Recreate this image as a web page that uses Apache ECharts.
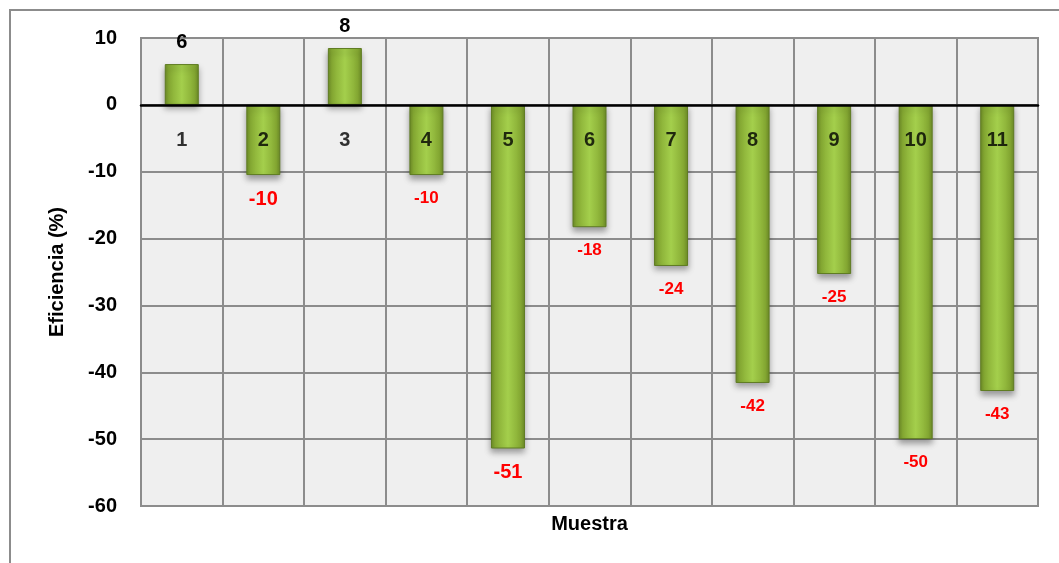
<!DOCTYPE html>
<html>
<head>
<meta charset="utf-8">
<script src="https://cdn.jsdelivr.net/npm/echarts@6/dist/echarts.min.js"></script>
<style>html,body{margin:0;padding:0;background:#fff;}#c{width:1059px;height:563px;}</style>
</head>
<body>
<div id="c"></div>
<script>
const categories = ['1','2','3','4','5','6','7','8','9','10','11'];
const values = [6.1, -10.5, 8.5, -10.5, -51.4, -18.3, -24.1, -41.6, -25.3, -50.0, -42.8];
const valueLabels = ['6','-10','8','-10','-51','-18','-24','-42','-25','-50','-43'];
const yTicks = { min: -60, max: 10, step: 10 };
const xTitle = 'Muestra';
const yTitle = 'Eficiencia (%)';

const bigLabelIdx = [1, 4];
const FONT = '"Liberation Sans", Arial, sans-serif';

const barGrad = new echarts.graphic.LinearGradient(0, 0, 1, 0, [
  {offset: 0, color: '#6e8d27'},
  {offset: 0.12, color: '#86aa33'},
  {offset: 0.5, color: '#a4cf4c'},
  {offset: 0.88, color: '#86aa33'},
  {offset: 1, color: '#6e8d27'}
]);

const seriesData = values.map((v, i) => {
  const pos = v >= 0;
  const big = bigLabelIdx.includes(i);
  return {
    value: v,
    label: {
      show: true,
      position: pos ? 'top' : 'bottom',
      distance: pos ? 12 : (big ? 14 : 15),
      formatter: valueLabels[i],
      color: pos ? '#000' : '#ff0000',
      fontSize: pos ? 20 : (big ? 20 : 17),
      fontWeight: 'bold',
      fontFamily: FONT
    }
  };
});

const chart = echarts.init(document.getElementById('c'), null, {renderer: 'canvas'});
chart.setOption({
  animation: false,
  backgroundColor: '#fff',
  graphic: [{
    type: 'rect', left: 9, top: 9, z: -10,
    shape: {width: 1100, height: 600},
    style: {fill: 'transparent', stroke: '#8c8c8c', lineWidth: 2}
  }],
  grid: {
    left: 141, top: 38, right: 21, bottom: 57,
    show: true, backgroundColor: '#efefef', borderColor: '#8c8c8c', borderWidth: 2
  },
  xAxis: [{
    type: 'category',
    data: categories,
    z: 10,
    axisLine: {onZero: true, lineStyle: {color: '#000', width: 2.5}},
    axisTick: {show: false},
    splitLine: {show: true, interval: 0, lineStyle: {color: '#8c8c8c', width: 2}},
    axisLabel: {show: false}
  }, {
    type: 'category',
    data: categories,
    position: 'bottom',
    axisLine: {show: false, onZero: false},
    axisTick: {show: false},
    axisLabel: {show: false},
    name: xTitle,
    nameLocation: 'middle',
    nameGap: 8,
    nameTextStyle: {color: '#000', fontSize: 20, fontWeight: 'bold', fontFamily: FONT}
  }],
  yAxis: {
    type: 'value',
    min: yTicks.min, max: yTicks.max, interval: yTicks.step,
    axisLine: {show: false},
    axisTick: {show: false},
    splitLine: {show: true, lineStyle: {color: '#8c8c8c', width: 2}},
    axisLabel: {margin: 24, color: '#000', fontSize: 20, fontWeight: 'bold', fontFamily: FONT},
    name: yTitle,
    nameLocation: 'middle',
    nameGap: 74,
    nameTextStyle: {color: '#000', fontSize: 20, fontWeight: 'bold', fontFamily: FONT}
  },
  series: [{
    type: 'bar',
    data: seriesData,
    barWidth: 34,
    z: 3,
    itemStyle: {
      color: barGrad,
      borderColor: '#5f7c22',
      borderWidth: 1,
      shadowColor: 'rgba(0,0,0,0.35)',
      shadowBlur: 6,
      shadowOffsetY: 4
    }
  }, {
    type: 'scatter',
    data: categories.map(c => [c, 0]),
    symbolSize: 0,
    z: 6,
    silent: true,
    label: {
      show: true,
      position: 'bottom',
      distance: 26,
      formatter: p => p.data[0],
      color: '#000',
      fontSize: 20,
      fontWeight: 'bold',
      fontFamily: FONT
    }
  }]
});
</script>
</body>
</html>
